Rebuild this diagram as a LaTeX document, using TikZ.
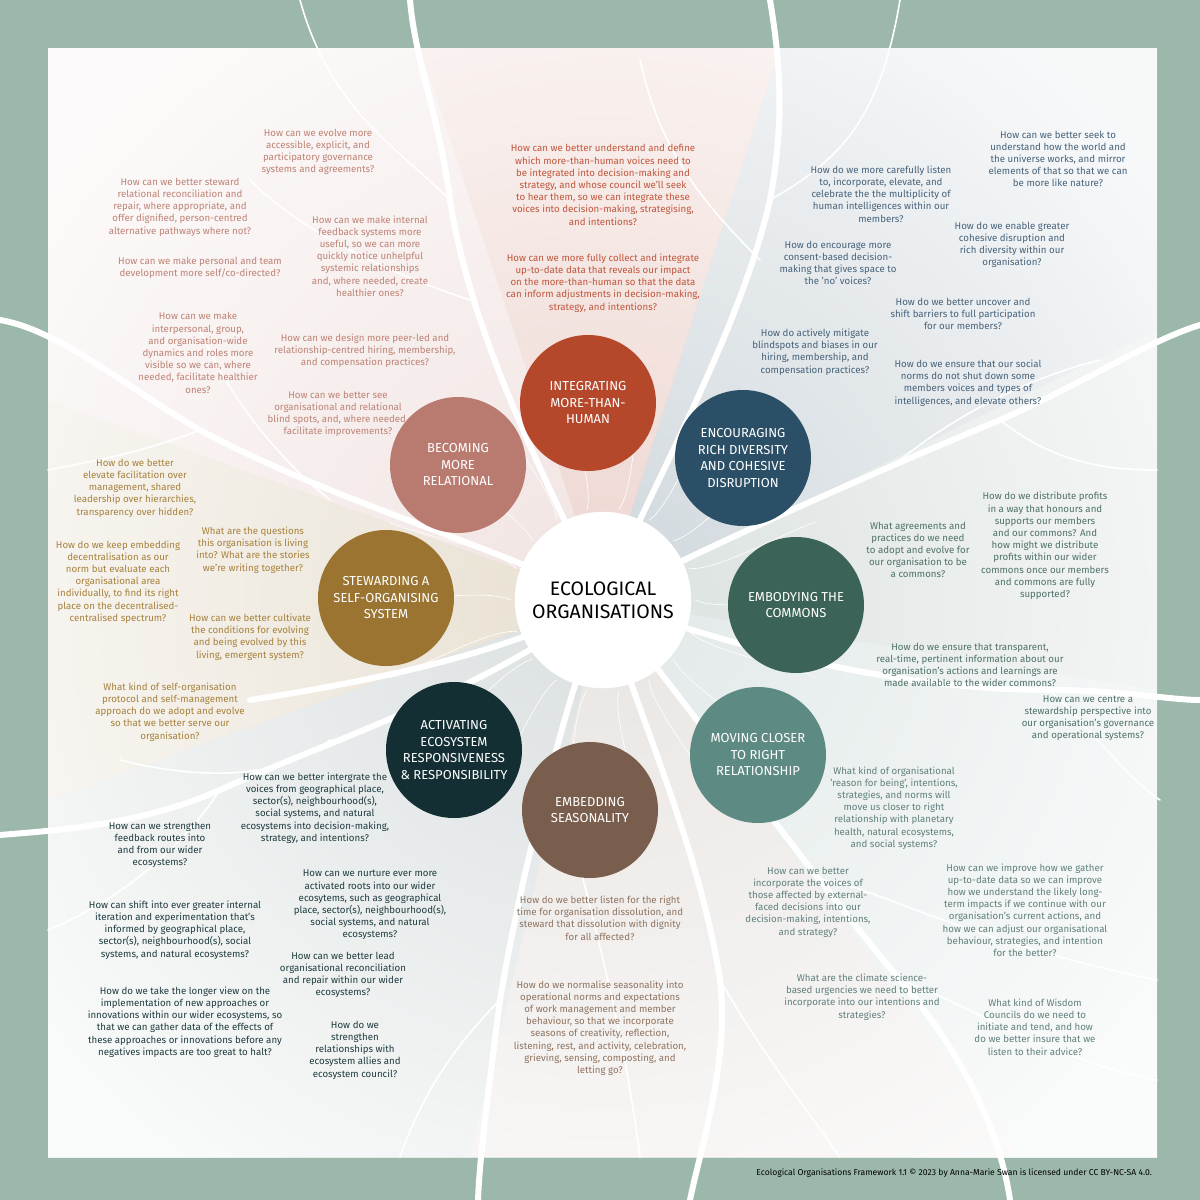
\documentclass[tikz,border=0pt]{standalone}
\usepackage{fontspec}
\setmainfont{Fira Sans}
\usetikzlibrary{fadings}
\definecolor{bg}{HTML}{9CB8AA}
\definecolor{cInt}{HTML}{B5472B}
\definecolor{cEnc}{HTML}{2B4F66}
\definecolor{cEmb}{HTML}{3B6357}
\definecolor{cMov}{HTML}{5E8A84}
\definecolor{cSea}{HTML}{7A5E4D}
\definecolor{cAct}{HTML}{132F33}
\definecolor{cSte}{HTML}{9A7430}
\definecolor{cRel}{HTML}{B97B70}
\definecolor{tInt}{HTML}{C0563C}
\definecolor{tEnc}{HTML}{46627A}
\definecolor{tEmb}{HTML}{4F716A}
\definecolor{tMov}{HTML}{61807D}
\definecolor{tSea}{HTML}{8F735F}
\definecolor{tAct}{HTML}{1E3B3F}
\definecolor{tSte}{HTML}{A7813C}
\definecolor{tRel}{HTML}{BE8275}
\tikzfading[name=edgewhite, inner color=transparent!100, outer color=transparent!15]
\tikzset{
 q/.style={align=center,font=\fontsize{9.7}{12.2}\selectfont,inner sep=0pt},
 big/.style={circle,minimum size=136pt,inner sep=0pt,text=white,align=center,font=\fontsize{13}{16.5}\selectfont},
 root/.style={white,line width=6pt,line cap=round},
 twig/.style={white,line width=1.6pt,line cap=round},
 hair/.style={white,line width=0.6pt,line cap=round}
}
\begin{document}
\begin{tikzpicture}[x=1pt,y=-1pt]
\useasboundingbox (0,0) rectangle (1200,1200);
\fill[bg] (0,0) rectangle (1200,1200);
\fill[white] (48,48) rectangle (1157,1157);
\begin{scope}
\clip (48,48) rectangle (1157,1157);
\coordinate (C) at (603,600);
\fill[cInt,opacity=.22] (C) -- (420,48) -- (780,48) -- cycle;
\fill[cEnc,opacity=.22] (C) -- (780,48) -- (1157,48) -- (1157,330) -- cycle;
\fill[cEmb,opacity=.18] (C) -- (1157,330) -- (1157,690) -- cycle;
\fill[cMov,opacity=.18] (C) -- (1157,690) -- (1157,1157) -- (1020,1157) -- cycle;
\fill[cSea,opacity=.16] (C) -- (1020,1157) -- (470,1157) -- cycle;
\fill[cAct,opacity=.15] (C) -- (470,1157) -- (48,1157) -- (48,800) -- cycle;
\fill[cSte,opacity=.22] (C) -- (48,800) -- (48,400) -- cycle;
\fill[cRel,opacity=.20] (C) -- (48,400) -- (48,48) -- (420,48) -- cycle;
\fill[white,path fading=edgewhite] (-100,-100) rectangle (1306,1300);
\end{scope}
% roots
\draw[root] (C) .. controls (540,470) and (470,330) .. (450,200) .. controls (440,120) and (415,60) .. (410,0);
\draw[root] (C) .. controls (660,470) and (740,330) .. (770,200) .. controls (785,120) and (780,60) .. (770,0);
\draw[root] (C) .. controls (720,540) and (880,470) .. (1000,420) .. controls (1080,385) and (1150,340) .. (1200,325);
\draw[root] (C) .. controls (740,650) and (900,690) .. (1050,690) .. controls (1120,690) and (1170,700) .. (1200,700);
\draw[root] (C) .. controls (700,720) and (800,860) .. (900,980) .. controls (960,1050) and (1000,1130) .. (1010,1200);
\draw[root] (C) .. controls (560,720) and (520,880) .. (500,1000) .. controls (490,1080) and (480,1150) .. (478,1200);
\draw[root] (C) .. controls (490,690) and (330,740) .. (220,790) .. controls (140,825) and (60,830) .. (0,835);
\draw[root] (C) .. controls (480,540) and (330,500) .. (200,430) .. controls (130,390) and (60,330) .. (0,320);
\draw[root] (C) .. controls (640,720) and (700,850) .. (720,980) .. controls (730,1060) and (700,1150) .. (690,1200);
\draw[root] (C) .. controls (520,650) and (380,680) .. (250,700);
% twigs
\draw[twig] (450,200) .. controls (400,150) and (330,110) .. (300,0);
\draw[twig] (470,300) .. controls (380,270) and (300,230) .. (250,180);
\draw[twig] (770,200) .. controls (840,160) and (880,120) .. (900,0);
\draw[twig] (760,260) .. controls (700,200) and (660,150) .. (640,60);
\draw[twig] (1000,420) .. controls (1050,460) and (1100,470) .. (1157,470);
\draw[twig] (900,460) .. controls (950,420) and (1020,380) .. (1100,360);
\draw[twig] (1050,690) .. controls (1100,740) and (1130,780) .. (1160,800);
\draw[twig] (900,980) .. controls (960,1000) and (1050,1060) .. (1157,1080);
\draw[twig] (820,880) .. controls (860,880) and (960,940) .. (1157,980);
\draw[twig] (500,1000) .. controls (450,1050) and (420,1100) .. (400,1157);
\draw[twig] (220,790) .. controls (180,850) and (120,900) .. (48,930);
\draw[twig] (330,740) .. controls (280,780) and (200,780) .. (120,760);
\draw[twig] (200,430) .. controls (150,450) and (100,460) .. (48,470);
\draw[twig] (330,500) .. controls (280,460) and (230,400) .. (200,330);
\draw[twig] (720,980) .. controls (760,1050) and (800,1100) .. (840,1157);
\draw[twig] (560,780) .. controls (580,880) and (620,1000) .. (640,1157);
\foreach \a in {0,20,...,340}{\draw[hair] (C) ++(\a:92) .. controls +(\a+25:30) and +(\a+190:20) .. ++(\a:135);}
% circles
\node[circle,fill=white,draw=white,minimum size=176pt] (center) at (603,600) {};
\node[align=center,font=\fontsize{19.5}{23}\selectfont,text=black] at (center) {ECOLOGICAL\\ORGANISATIONS};
\node[big,fill=cInt] (int) at (588,403) {INTEGRATING\\MORE-THAN-\\HUMAN};
\node[big,fill=cEnc] (enc) at (743,458) {ENCOURAGING\\RICH DIVERSITY\\AND COHESIVE\\DISRUPTION};
\node[big,fill=cEmb] (emb) at (796,605) {EMBODYING THE\\COMMONS};
\node[big,fill=cMov] (mov) at (758,755) {MOVING CLOSER\\TO RIGHT\\RELATIONSHIP};
\node[big,fill=cSea] (sea) at (590,810) {EMBEDDING\\SEASONALITY};
\node[big,fill=cAct] (act) at (454,750) {ACTIVATING\\ECOSYSTEM\\RESPONSIVENESS\\\& RESPONSIBILITY};
\node[big,fill=cSte] (ste) at (386,598) {STEWARDING A\\SELF-ORGANISING\\SYSTEM};
\node[big,fill=cRel] (rel) at (458,465) {BECOMING\\MORE\\RELATIONAL};
% texts
\node[q,tInt] (t1) at (603,185) {How can we better understand and define\\which more-than-human voices need to\\be integrated into decision-making and\\strategy, and whose council we'll seek\\to hear them, so we can integrate these\\voices into decision-making, strategising,\\and intentions?};
\node[q,tInt] (t2) at (603,283) {How can we more fully collect and integrate\\up-to-date data that reveals our impact\\on the more-than-human so that the data\\can inform adjustments in decision-making,\\strategy, and intentions?};
\node[q,tRel] (t3) at (318,152) {How can we evolve more\\accessible, explicit, and\\participatory governance\\systems and agreements?};
\node[q,tRel] (t4) at (180,207) {How can we better steward\\relational reconciliation and\\repair, where appropriate, and\\offer dignified, person-centred\\alternative pathways where not?};
\node[q,tRel] (t5) at (200,268) {How can we make personal and team\\development more self/co-directed?};
\node[q,tRel] (t6) at (370,256) {How can we make internal\\feedback systems more\\useful, so we can more\\quickly notice unhelpful\\systemic relationships\\and, where needed, create\\healthier ones?};
\node[q,tRel] (t7) at (198,353) {How can we make\\interpersonal, group,\\and organisation-wide\\dynamics and roles more\\visible so we can, where\\needed, facilitate healthier\\ones?};
\node[q,tRel] (t8) at (365,351) {How can we design more peer-led and\\relationship-centred hiring, membership,\\and compensation practices?};
\node[q,tRel] (t9) at (338,414) {How can we better see\\organisational and relational\\blind spots, and, where needed,\\facilitate improvements?};
\node[q,tSte] (t10) at (135,488) {How do we better\\elevate facilitation over\\management, shared\\leadership over hierarchies,\\transparency over hidden?};
\node[q,tSte] (t11) at (253,550) {What are the questions\\this organisation is living\\into? What are the stories\\we're writing together?};
\node[q,tSte] (t12) at (118,582) {How do we keep embedding\\decentralisation as our\\norm but evaluate each\\organisational area\\individually, to find its right\\place on the decentralised-\\centralised spectrum?};
\node[q,tSte] (t13) at (250,637) {How can we better cultivate\\the conditions for evolving\\and being evolved by this\\living, emergent system?};
\node[q,tSte] (t14) at (170,712) {What kind of self-organisation\\protocol and self-management\\approach do we adopt and evolve\\so that we better serve our\\organisation?};
\node[q,tAct] (t15) at (315,808) {How can we better intergrate the\\voices from geographical place,\\sector(s), neighbourhood(s),\\social systems, and natural\\ecosystems into decision-making,\\strategy, and intentions?};
\node[q,tAct] (t16) at (160,845) {How can we strengthen\\feedback routes into\\and from our wider\\ecosystems?};
\node[q,tAct] (t17) at (370,905) {How can we nurture ever more\\activated roots into our wider\\ecosytems, such as geographical\\place, sector(s), neighbourhood(s),\\social systems, and natural\\ecosystems?};
\node[q,tAct] (t18) at (175,930) {How can shift into ever greater internal\\iteration and experimentation that's\\informed by geographical place,\\sector(s), neighbourhood(s), social\\systems, and natural ecosystems?};
\node[q,tAct] (t19) at (343,975) {How can we better lead\\organisational reconciliation\\and repair within our wider\\ecosystems?};
\node[q,tAct] (t20) at (185,1022) {How do we take the longer view on the\\implementation of new approaches or\\innovations within our wider ecosystems, so\\that we can gather data of the effects of\\these approaches or innovations before any\\negatives impacts are too great to halt?};
\node[q,tAct] (t21) at (355,1050) {How do we\\strengthen\\relationships with\\ecosystem allies and\\ecosystem council?};
\node[q,tSea] (t22) at (600,918) {How do we better listen for the right\\time for organisation dissolution, and\\steward that dissolution with dignity\\for all affected?};
\node[q,tSea] (t23) at (600,1028) {How do we normalise seasonality into\\operational norms and expectations\\of work management and member\\behaviour, so that we incorporate\\seasons of creativity, reflection,\\listening, rest, and activity, celebration,\\grieving, sensing, composting, and\\letting go?};
\node[q,tMov] (t24) at (894,808) {What kind of organisational\\'reason for being', intentions,\\strategies, and norms will\\move us closer to right\\relationship with planetary\\health, natural ecosystems,\\and social systems?};
\node[q,tMov] (t25) at (808,902) {How can we better\\incorporate the voices of\\those affected by external-\\faced decisions into our\\decision-making, intentions,\\and strategy?};
\node[q,tMov] (t26) at (1025,910) {How can we improve how we gather\\up-to-date data so we can improve\\how we understand the likely long-\\term impacts if we continue with our\\organisation's current actions, and\\how we can adjust our organisational\\behaviour, strategies, and intention\\for the better?};
\node[q,tMov] (t27) at (862,997) {What are the climate science-\\based urgencies we need to better\\incorporate into our intentions and\\strategies?};
\node[q,tMov] (t28) at (1035,1027) {What kind of Wisdom\\Councils do we need to\\initiate and tend, and how\\do we better insure that we\\listen to their advice?};
\node[q,tEmb] (t29) at (1045,546) {How do we distribute profits\\in a way that honours and\\supports our members\\and our commons? And\\how might we distribute\\profits within our wider\\commons once our members\\and commons are fully\\supported?};
\node[q,tEmb] (t30) at (918,550) {What agreements and\\practices do we need\\to adopt and evolve for\\our organisation to be\\a commons?};
\node[q,tEmb] (t31) at (970,665) {How do we ensure that transparent,\\real-time, pertinent information about our\\organisation's actions and learnings are\\made available to the wider commons?};
\node[q,tEmb] (t32) at (1088,718) {How can we centre a\\stewardship perspective into\\our organisation's governance\\and operational systems?};
\node[q,tEnc] (t33) at (881,194) {How do we more carefully listen\\to, incorporate, elevate, and\\celebrate the the multiplicity of\\human intelligences within our\\members?};
\node[q,tEnc] (t34) at (1058,159) {How can we better seek to\\understand how the world and\\the universe works, and mirror\\elements of that so that we can\\be more like nature?};
\node[q,tEnc] (t35) at (838,263) {How do encourage more\\consent-based decision-\\making that gives space to\\the 'no' voices?};
\node[q,tEnc] (t36) at (1012,245) {How do we enable greater\\cohesive disruption and\\rich diversity within our\\organisation?};
\node[q,tEnc] (t37) at (963,314) {How do we better uncover and\\shift barriers to full participation\\for our members?};
\node[q,tEnc] (t38) at (815,352) {How do actively mitigate\\blindspots and biases in our\\hiring, membership, and\\compensation practices?};
\node[q,tEnc] (t39) at (968,383) {How do we ensure that our social\\norms do not shut down some\\members voices and types of\\intelligences, and elevate others?};
\node[anchor=east,inner sep=0pt,font=\fontsize{8.6}{10}\selectfont] (foot) at (1152,1173) {Ecological Organisations Framework 1.1 © 2023 by Anna-Marie Swan is licensed under CC BY-NC-SA 4.0.};
\end{tikzpicture}
\end{document}
